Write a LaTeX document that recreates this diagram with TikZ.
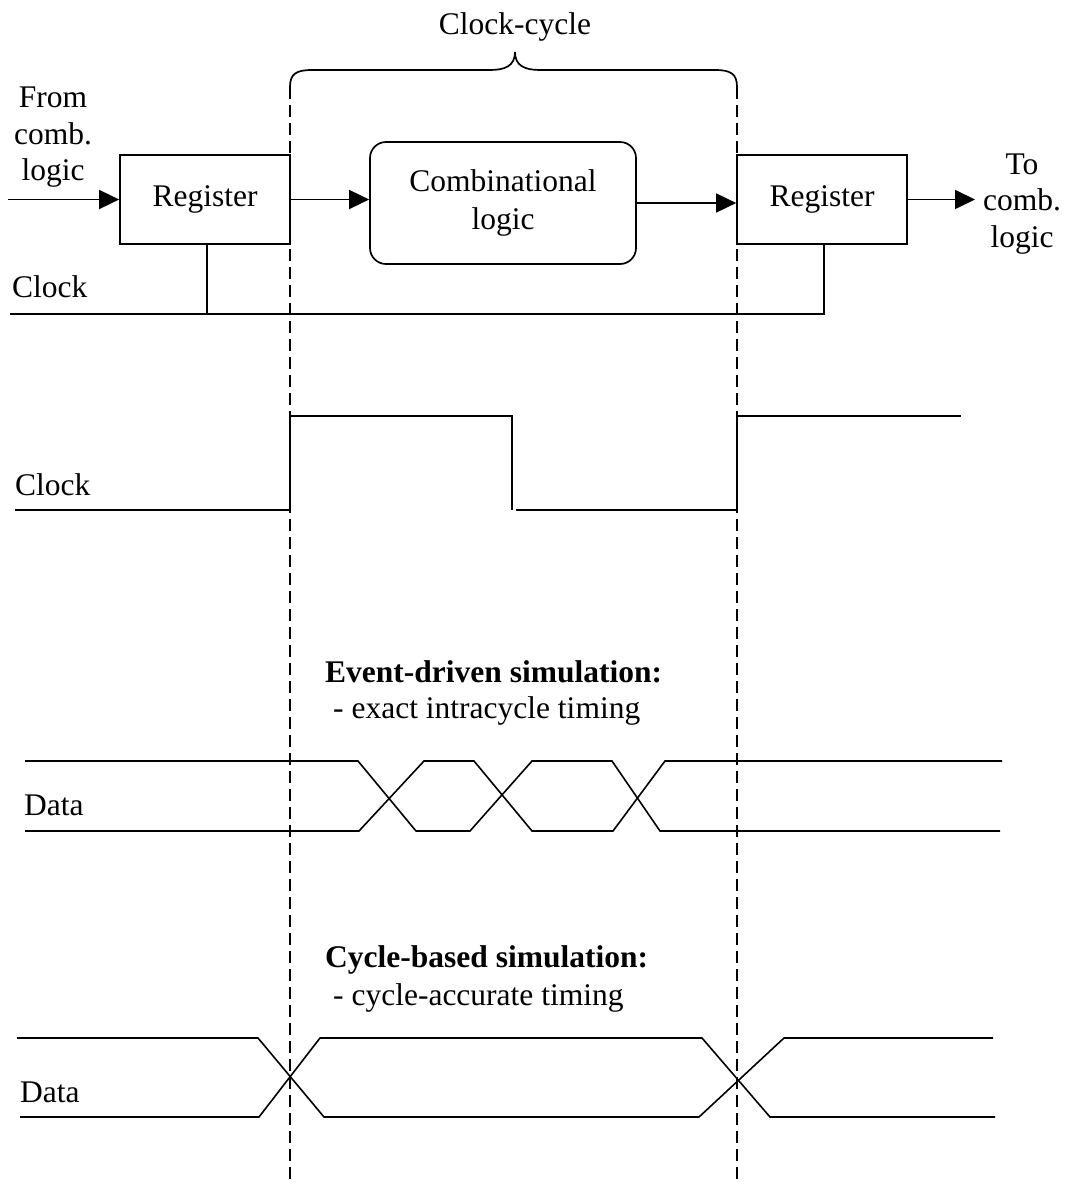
\documentclass[tikz,border=0pt]{standalone}
\usepackage{fontspec}
\setmainfont{Liberation Serif}
\usetikzlibrary{arrows.meta}
\tikzset{
  txt/.style={font=\fontsize{31.5}{36.5}\selectfont, inner sep=0pt},
  regbox/.style={txt, draw, line width=1.7pt, minimum width=170pt, minimum height=89pt},
  logicbox/.style={font=\fontsize{31.5}{38}\selectfont, inner sep=0pt, draw, line width=1.7pt, rounded corners=16pt, minimum width=266pt, minimum height=122pt, align=center},
  wire/.style={line width=1.7pt},
  sig/.style={line width=1.6pt, line join=miter},
  arr/.style={wire, -{Triangle[length=20pt, width=19pt]}},
  cyclemark/.style={line width=1.3pt, dash pattern=on 12pt off 6pt},
  boldtxt/.style={txt, font=\fontsize{31.5}{36.5}\selectfont\bfseries},
}
\begin{document}
\begin{tikzpicture}[x=1pt, y=-1pt]
  \useasboundingbox (0,0) rectangle (1067,1182);
  \fill[white] (0,0) rectangle (1067,1182);

  % block diagram
  \node[regbox] (regL) at (205,199.5) {Register};
  \node[logicbox] (comb) at (503,203) {Combinational\\logic};
  \node[regbox] (regR) at (822,199.5) {Register};

  \node[txt, align=center] (from) at (53,137.5) {From\\comb.\\logic};
  \node[txt, align=center] (to) at (1022,204) {To\\comb.\\logic};

  \coordinate (in) at (8,199.5);
  \coordinate (out) at (975,199.5);
  \draw[arr] (in) -- (regL.west);
  \draw[arr] (regL.east) -- (regL.east -| comb.west);
  \draw[arr] (comb.east) -- (comb.east -| regR.west);
  \draw[arr] (regR.east) -- (out);

  % clock distribution
  \node[txt, anchor=base west] (clkA) at (12,297) {Clock};
  \coordinate (clk0) at (10,314);
  \coordinate (tapL) at (207,314);
  \coordinate (tapR) at (824,314);
  \draw[wire] (clk0) -- (tapR) -- (tapR |- regR.south);
  \draw[wire] (tapL) -- (tapL |- regL.south);

  % clock-cycle brace and cycle boundaries
  \node[txt, anchor=base] (cyc) at (515,35) {Clock-cycle};
  \coordinate (bL) at (290,87);
  \coordinate (bR) at (737,87);
  \draw[wire] (bL) .. controls (290,74) and (296,70) .. (312,70) -- (490,70)
    .. controls (505,70) and (515,66) .. (515,52)
    .. controls (515,66) and (525,70) .. (540,70) -- (715,70)
    .. controls (731,70) and (737,74) .. (bR);
  \coordinate (eL) at (290,1182);
  \coordinate (eR) at (737,1182);
  \draw[cyclemark] (bL) -- (eL);
  \draw[cyclemark] (bR) -- (eR);

  % clock waveform
  \node[txt, anchor=base west] (clkB) at (15,495) {Clock};
  \draw[sig] (15,510) -- (290,510) -- (290,416) -- (512,416) -- (512,510);
  \draw[sig] (516,510) -- (737,510) -- (737,416) -- (961,416);

  % event-driven data waveform
  \node[boldtxt, anchor=base west] (evt) at (325,682) {Event-driven simulation:};
  \node[txt, anchor=base west] (evtsub) at (333,718) {- exact intracycle timing};
  \node[txt, anchor=base west] (dataA) at (24,815) {Data};
  \draw[sig] (25,761) -- (358,761) -- (416,831) -- (470,831) -- (532,761) -- (612,761) -- (660,831) -- (1000,831);
  \draw[sig] (25,831) -- (359,831) -- (424,761) -- (474,761) -- (532,831) -- (613,831) -- (665,761) -- (1002,761);

  % cycle-based data waveform
  \node[boldtxt, anchor=base west] (cbs) at (325,967) {Cycle-based simulation:};
  \node[txt, anchor=base west] (cbssub) at (333,1005) {- cycle-accurate timing};
  \node[txt, anchor=base west] (dataB) at (20,1102) {Data};
  \draw[sig] (17,1038) -- (258,1038) -- (324,1117) -- (699,1117) -- (784,1038) -- (993,1038);
  \draw[sig] (20,1117) -- (259,1117) -- (320,1038) -- (702,1038) -- (770,1117) -- (995,1117);
\end{tikzpicture}
\end{document}
